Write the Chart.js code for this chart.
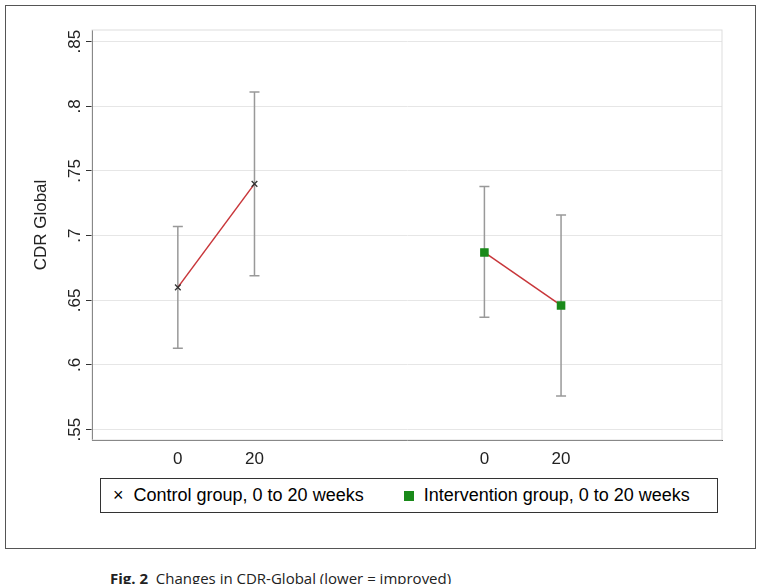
<!DOCTYPE html>
<html><head><meta charset="utf-8">
<script src="https://cdn.jsdelivr.net/npm/chart.js@4"></script>
<style>
body{margin:0;background:#fff;font-family:"Liberation Sans",Arial,sans-serif;}
#frame{position:absolute;left:5px;top:5px;width:749px;height:542px;border:1px solid #555;}
#wrap{position:absolute;left:5px;top:5px;width:750px;height:465px;}
#legend{position:absolute;left:100px;top:478px;width:616px;height:33px;border:1px solid #333;font-size:18px;display:flex;align-items:center;}
#legend span{display:inline-flex;align-items:center;}
#cap{position:absolute;left:110px;top:568px;font-family:"Open Sans",sans-serif;font-size:15px;color:#222;}
</style></head><body>
<div id="frame"></div>
<div id="wrap"><canvas id="c" width="750" height="465"></canvas></div>
<div id="legend">
  <span style="margin-left:12px">× &nbsp;Control group, 0 to 20 weeks</span>
  <span style="margin-left:40px"><i style="display:inline-block;width:10px;height:10px;background:#1a8a1a;margin-right:10px"></i>Intervention group, 0 to 20 weeks</span>
</div>
<div id="cap"><b>Fig. 2</b>&nbsp; Changes in CDR-Global (lower = improved)</div>
<script>
const xPos = [1, 2, 5, 6];
const xLabels = ['0', '20', '0', '20'];
const controlMean = [0.660, 0.740];
const controlLow = [0.613, 0.669];
const controlHigh = [0.707, 0.811];
const interMean = [0.687, 0.646];
const interLow = [0.637, 0.576];
const interHigh = [0.738, 0.716];
const yTicks = [0.55, 0.6, 0.65, 0.7, 0.75, 0.8, 0.85];
const yTickLabels = ['.55', '.6', '.65', '.7', '.75', '.8', '.85'];

const errorBars = {
  id: 'errorBars',
  beforeDatasetsDraw(chart) {
    const { ctx, scales: { x, y }, chartArea: a } = chart;
    ctx.save();
    ctx.strokeStyle = '#ddd'; ctx.lineWidth = 1;
    ctx.strokeRect(a.left, a.top, a.right - a.left, a.bottom - a.top);
    ctx.strokeStyle = '#999'; ctx.lineWidth = 1.5;
    const bars = [
      [xPos[0], controlLow[0], controlHigh[0]], [xPos[1], controlLow[1], controlHigh[1]],
      [xPos[2], interLow[0], interHigh[0]], [xPos[3], interLow[1], interHigh[1]]
    ];
    bars.forEach(([xv, lo, hi]) => {
      const px = x.getPixelForValue(xv);
      const p1 = y.getPixelForValue(lo), p2 = y.getPixelForValue(hi);
      ctx.beginPath();
      ctx.moveTo(px, p1); ctx.lineTo(px, p2);
      ctx.moveTo(px - 5, p1); ctx.lineTo(px + 5, p1);
      ctx.moveTo(px - 5, p2); ctx.lineTo(px + 5, p2);
      ctx.stroke();
    });
    // rotated y tick labels
    ctx.fillStyle = '#222'; ctx.font = '17px "Liberation Sans", Arial';
    ctx.textAlign = 'center'; ctx.textBaseline = 'bottom';
    yTicks.forEach((v, i) => {
      ctx.save();
      ctx.translate(a.left - 8, y.getPixelForValue(v));
      ctx.rotate(-Math.PI / 2);
      ctx.fillText(yTickLabels[i], 0, 0);
      ctx.restore();
    });
    ctx.save();
    ctx.translate(45, (a.top + a.bottom) / 2 - 10);
    ctx.rotate(-Math.PI / 2);
    ctx.fillText('CDR Global', 0, 0);
    ctx.restore();
    ctx.restore();
  }
};

new Chart(document.getElementById('c'), {
  type: 'line',
  data: {
    datasets: [
      { data: xPos.slice(0, 2).map((v, i) => ({ x: v, y: controlMean[i] })),
        borderColor: '#c8363a', borderWidth: 1.5, pointStyle: 'crossRot', pointRadius: 4,
        pointBorderColor: '#333', pointBorderWidth: 1.3 },
      { data: xPos.slice(2).map((v, i) => ({ x: v, y: interMean[i] })),
        borderColor: '#c8363a', borderWidth: 1.5, pointStyle: 'rect', pointRadius: 5,
        pointBackgroundColor: '#1a8a1a', pointBorderColor: '#1a8a1a' }
    ]
  },
  options: {
    responsive: false, animation: false,
    layout: { padding: { top: 25, right: 33 } },
    plugins: { legend: { display: false }, tooltip: { enabled: false } },
    scales: {
      x: {
        type: 'linear', min: -0.12, max: 8.1,
        afterBuildTicks: s => { s.ticks = xPos.map(v => ({ value: v })); },
        afterFit: s => { s.height = 30; },
        ticks: { callback: (v) => xLabels[xPos.indexOf(v)], color: '#222', font: { size: 17, family: 'Liberation Sans' }, maxRotation: 0 },
        grid: { display: false, drawTicks: true, tickLength: 6 },
        border: { color: '#333' }
      },
      y: {
        min: 0.542, max: 0.859,
        afterBuildTicks: s => { s.ticks = yTicks.map(v => ({ value: v })); },
        afterFit: s => { s.width = 87; },
        ticks: { display: false },
        grid: { color: '#e6e6e6', tickLength: 6, tickColor: '#333' },
        border: { color: '#333' }
      }
    }
  },
  plugins: [errorBars]
});
</script>
</body></html>
